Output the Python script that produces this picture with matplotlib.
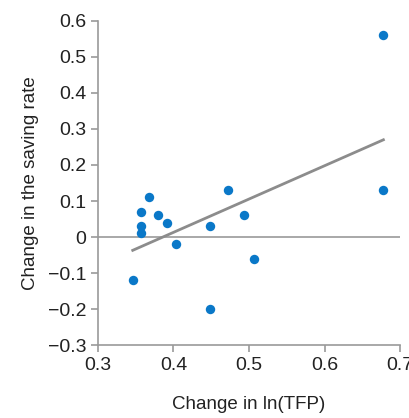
import matplotlib
matplotlib.use("Agg")
import matplotlib.pyplot as plt
from matplotlib import font_manager

# data
tfp_change = [0.678, 0.678, 0.472, 0.368, 0.357, 0.380, 0.391, 0.357, 0.357,
              0.449, 0.494, 0.403, 0.506, 0.346, 0.449]
saving_change = [0.56, 0.13, 0.13, 0.11, 0.07, 0.06, 0.04, 0.03, 0.01,
                 0.03, 0.06, -0.02, -0.06, -0.12, -0.20]
fit_x = [0.346, 0.678]
fit_y = [-0.037, 0.27]
x_ticks = [0.3, 0.4, 0.5, 0.6, 0.7]
y_ticks = [-0.3, -0.2, -0.1, 0, 0.1, 0.2, 0.3, 0.4, 0.5, 0.6]

names = {f.name for f in font_manager.fontManager.ttflist}
family = 'Liberation Sans Narrow' if 'Liberation Sans Narrow' in names else 'Liberation Sans'
plt.rcParams['font.family'] = [family, 'DejaVu Sans']

fig = plt.figure(figsize=(4.09, 4.18), dpi=100)
ax = fig.add_axes([0.2396, 0.1746, 0.978 - 0.2396, 0.9498 - 0.1746])

grey = '#9a9a9a'
ax.axhline(0, color=grey, lw=1.2, zorder=1)
ax.plot(fit_x, fit_y, color='#8c8c8c', lw=2, zorder=2)
ax.scatter(tfp_change, saving_change, s=46, color='#0a78c8', zorder=3, linewidths=0)

ax.set_xlim(0.3, 0.7)
ax.set_ylim(-0.3, 0.6)
ax.set_xticks(x_ticks)
ax.set_yticks(y_ticks)
ax.set_xticklabels(['0.3', '0.4', '0.5', '0.6', '0.7'])
ax.set_yticklabels(['\u22120.3', '\u22120.2', '\u22120.1', '0', '0.1', '0.2', '0.3', '0.4', '0.5', '0.6'])

for s in ['top', 'right']:
    ax.spines[s].set_visible(False)
for s in ['left', 'bottom']:
    ax.spines[s].set_color(grey)
    ax.spines[s].set_linewidth(1.2)
ax.tick_params(colors=grey, length=5, width=1.2, labelsize=14, labelcolor='#222222')

ax.set_xlabel('Change in ln(TFP)', fontsize=13.5, color='#222222', labelpad=16)
ax.set_ylabel('Change in the saving rate', fontsize=13.5, color='#222222', labelpad=6)

fig.savefig('out.png', dpi=100)
